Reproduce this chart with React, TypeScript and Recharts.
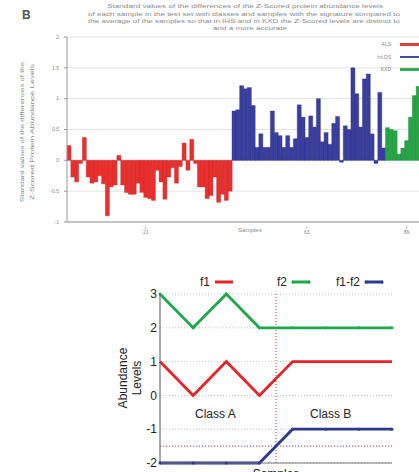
import {
  BarChart,
  Bar,
  XAxis,
  YAxis,
  CartesianGrid,
  LineChart,
  Line,
  ReferenceLine,
  ReferenceDot,
} from "recharts";

// panel B: differences of z-scored abundance, one bar per sample
const redDiffs = [
  0.24, -0.27, -0.35, -0.05, 0.37, -0.27, -0.37, -0.35, -0.25, -0.38, -0.9, -0.43, -0.4, 0.08, -0.4,
  -0.52, -0.55, -0.55, -0.37, -0.52, -0.6, -0.62, -0.65, -0.16, -0.35, -0.63, -0.27, -0.12, -0.37,
  -0.1, 0.28, -0.16, 0.34, -0.05, -0.43, -0.43, -0.62, -0.57, -0.27, -0.68, -0.55, -0.65, -0.5,
];
const blueDiffs = [
  0.8, 0.82, 1.21, 1.16, 1.18, 0.89, 0.21, 0.43, 0.21, 0.21, 0.8, 0.45, 0.4, 0.21, 0.4, 0.21, 0.35,
  0.9, 0.7, 0.37, 0.72, 0.54, 1.0, 0.3, 0.45, 0.26, 0.6, 0.71, -0.03, 0.56, 0.5, 1.5, 1.08, 0.54,
  1.32, 1.4, 0.43, -0.05, 1.1, 0.2,
];
const greenDiffs = [0.53, 0.5, 0.48, 0.1, 0.2, 0.32, 0.7, 1.05, 1.2];
const groupNames = ["ALS", "Int.DS", "KXD"];
const barTickAt = [21, 63, 89];
const diffTicks = [-1, -0.5, 0, 0.5, 1, 1.5, 2];

// bottom panel: toy example
const samples = [0, 1, 2, 3, 4, 5, 6, 7];
const f1 = [1, 0, 1, 0, 1, 1, 1, 1];
const f2 = [3, 2, 3, 2, 2, 2, 2, 2];
const f1f2 = [-2, -2, -2, -2, -1, -1, -1, -1];
const levelTicks = [-2, -1, 0, 1, 2, 3];

const RED = "#e8302f";
const BLUE = "#3a3f9e";
const GREEN = "#27a546";

const barRows = [
  ...redDiffs.map((v) => ({ red: v })),
  ...blueDiffs.map((v) => ({ blue: v })),
  ...greenDiffs.map((v) => ({ green: v })),
].map((r, k) => ({ i: k + 1, ...r }));

const lineRows = samples.map((s, k) => ({ s, f1: f1[k], f2: f2[k], d: f1f2[k] }));

const barLegend = [
  { name: groupNames[0], color: "#e0403f" },
  { name: groupNames[1], color: "#3d4c9e" },
  { name: groupNames[2], color: "#3aa856" },
];

const lineLegend = [
  { name: "f1", color: "#ec2027", left: 200, dot: false },
  { name: "f2", color: "#1ea84b", left: 277, dot: true },
  { name: "f1-f2", color: "#2b3990", left: 336, dot: true },
];

function BarTick(props: any) {
  const { x, y, payload } = props;
  if (!barTickAt.includes(payload.value)) return <g />;
  return (
    <g>
      <line x1={x} x2={x} y1={y - 4} y2={y - 1} stroke="#999" strokeWidth={0.6} />
      <text x={x} y={y + 4} textAnchor="middle" fontSize={5} fill="#888">
        {payload.value}
      </text>
    </g>
  );
}

export default function App() {
  return (
    <div
      style={{
        position: "absolute",
        left: 0,
        top: 0,
        width: 419,
        height: 472,
        overflow: "hidden",
        background: "#fff",
        fontFamily: "'Liberation Sans', Arial, sans-serif",
      }}
    >
      <div style={{ position: "absolute", left: 0, top: 0 }}>
        <BarChart
          width={430}
          height={240}
          data={barRows}
          margin={{ top: 37, right: 10, bottom: 0, left: 0 }}
          barCategoryGap={0}
          barGap={0}
        >
          <CartesianGrid vertical={false} stroke="#dcdcdc" strokeWidth={0.8} />
          <XAxis
            dataKey="i"
            interval={0}
            tickLine={false}
            tick={BarTick}
            height={18}
            axisLine={{ stroke: "#999" }}
          />
          <YAxis
            domain={[-1, 2]}
            ticks={diffTicks}
            width={67}
            tickSize={3}
            tickMargin={5}
            tick={{ fontSize: 5, fill: "#888" }}
            axisLine={{ stroke: "#999" }}
            tickLine={{ stroke: "#999" }}
          />
          <Bar dataKey="red" stackId="s" fill={RED} stroke="#c9201f" strokeWidth={0.4} isAnimationActive={false} />
          <Bar dataKey="blue" stackId="s" fill={BLUE} stroke="#2a2e80" strokeWidth={0.4} isAnimationActive={false} />
          <Bar dataKey="green" stackId="s" fill={GREEN} stroke="#1b8a37" strokeWidth={0.4} isAnimationActive={false} />
        </BarChart>
      </div>

      {/* legend of panel B */}
      <div style={{ position: "absolute", top: 38, left: 330, width: 100 }}>
        {barLegend.map((g) => (
          <div
            key={g.name}
            style={{ display: "flex", alignItems: "center", justifyContent: "flex-end", height: 12.5 }}
          >
            <span style={{ fontSize: 5, color: "#888", marginRight: 9 }}>{g.name}</span>
            <span style={{ display: "inline-block", width: 30, height: 2.5, background: g.color }} />
          </div>
        ))}
      </div>

      <div style={{ position: "absolute", left: 100, top: 270 }}>
        <LineChart
          width={300}
          height={223}
          data={lineRows}
          margin={{ top: 24, right: 8, bottom: 0, left: 0 }}
        >
          <CartesianGrid vertical={false} stroke="#c4c4c4" strokeDasharray="1 2" />
          <XAxis
            dataKey="s"
            type="number"
            domain={[0, 7]}
            ticks={samples}
            tick={false}
            tickLine={false}
            height={30}
            axisLine={{ stroke: "#777" }}
          />
          <YAxis
            domain={[-2, 3]}
            ticks={levelTicks}
            width={60}
            tickLine={false}
            tickSize={1}
            tickMargin={2}
            tick={{ fontSize: 12, fill: "#222" }}
            axisLine={{ stroke: "#555" }}
          />
          <ReferenceLine x={3.5} stroke="#ec2027" strokeDasharray="1 2" />
          <ReferenceLine y={-1.5} stroke="#ec2027" strokeDasharray="1 2" />
          <ReferenceDot x={1.67} y={-0.53} r={0} stroke="none" label={{ value: "Class A", position: "center", fontSize: 12, fill: "#222" }} />
          <ReferenceDot x={5.15} y={-0.53} r={0} stroke="none" label={{ value: "Class B", position: "center", fontSize: 12, fill: "#222" }} />
          <Line dataKey="f2" stroke="#1ea84b" strokeWidth={2.8} dot={{ r: 1.5, fill: "#1ea84b", stroke: "none" }} isAnimationActive={false} />
          <Line dataKey="f1" stroke="#ec2027" strokeWidth={2.8} dot={false} isAnimationActive={false} />
          <Line dataKey="d" stroke="#2b3990" strokeWidth={2.8} dot={{ r: 1.5, fill: "#2b3990", stroke: "none" }} isAnimationActive={false} />
        </LineChart>
      </div>

      {/* legend of the lower panel */}
      {lineLegend.map((it) => (
        <div
          key={it.name}
          style={{ position: "absolute", left: it.left, top: 275, display: "flex", alignItems: "center", fontSize: 12, color: "#222" }}
        >
          <span style={{ marginRight: 4 }}>{it.name}</span>
          <svg width={20} height={8}>
            <line x1={1} x2={19} y1={4} y2={4} stroke={it.color} strokeWidth={3} />
            {it.dot && <circle cx={2} cy={4} r={1.6} fill={it.color} />}
            {it.dot && <circle cx={18} cy={4} r={1.6} fill={it.color} />}
          </svg>
        </div>
      ))}

      <svg width={419} height={472} style={{ position: "absolute", left: 0, top: 0, pointerEvents: "none" }}>
        <text x={22} y={19} fontSize={12} fontWeight="bold" fill="#555">B</text>
        <g fontSize={6} fill="#8a8a8a" textAnchor="middle">
          <text x={245} y={8} textLength={276} lengthAdjust="spacingAndGlyphs">
            Standard values of the differences of the Z-Scored protein abundance levels
          </text>
          <text x={244} y={16} textLength={312} lengthAdjust="spacingAndGlyphs">
            of each sample in the test set with classes and samples with the signature compared to
          </text>
          <text x={244} y={23} textLength={312} lengthAdjust="spacingAndGlyphs">
            the average of the samples so that in IHS and in KXD the Z-Scored levels are distinct to
          </text>
          <text x={250} y={30} textLength={74} lengthAdjust="spacingAndGlyphs">
            and a more accurate
          </text>
        </g>
        <g fontSize={6} fill="#8a8a8a" textAnchor="middle">
          <text x={24} y={132} transform="rotate(-90 24 132)" textLength={140} lengthAdjust="spacingAndGlyphs">
            Standard values of the differences of the
          </text>
          <text x={34} y={132} transform="rotate(-90 34 132)" textLength={136} lengthAdjust="spacingAndGlyphs">
            Z-Scored Protein Abundance Levels
          </text>
          <text x={250} y={232}>Samples</text>
        </g>
        <g fontSize={12} fill="#222" textAnchor="middle">
          <text x={127} y={378} transform="rotate(-90 127 378)">Abundance</text>
          <text x={141} y={378} transform="rotate(-90 141 378)">Levels</text>
          <text x={276} y={478}>Samples</text>
        </g>
      </svg>
    </div>
  );
}
